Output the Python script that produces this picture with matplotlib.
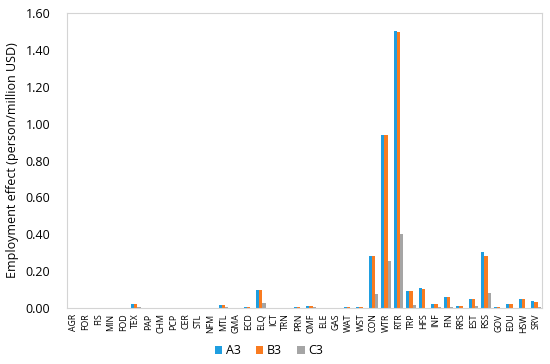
import numpy as np
import matplotlib.pyplot as plt

plt.rcParams['font.family'] = ['Open Sans', 'DejaVu Sans']

sectors = ['AGR', 'FOR', 'FIS', 'MIN', 'FOD', 'TEX', 'PAP', 'CHM', 'PCP', 'CER',
           'STL', 'NFM', 'MTL', 'GMA', 'ECD', 'ELQ', 'ICT', 'TRN', 'PRN', 'OMF',
           'ELE', 'GAS', 'WAT', 'WST', 'CON', 'WTR', 'RTR', 'TRP', 'HFS', 'INF',
           'FIN', 'RRS', 'EST', 'RSS', 'GOV', 'EDU', 'HSW', 'SRV']

a3 = [0, 0, 0, 0, 0, 0.020, 0, 0, 0, 0,
      0, 0.002, 0.015, 0, 0.007, 0.095, 0, 0.002, 0.004, 0.010,
      0, 0, 0.004, 0.004, 0.283, 0.940, 1.503, 0.093, 0.110, 0.023,
      0.058, 0.013, 0.046, 0.305, 0.007, 0.023, 0.051, 0.035]
b3 = [0, 0, 0, 0, 0, 0.020, 0, 0, 0, 0,
      0, 0.002, 0.015, 0, 0.007, 0.095, 0, 0.002, 0.004, 0.010,
      0, 0, 0.004, 0.004, 0.283, 0.940, 1.498, 0.092, 0.101, 0.023,
      0.058, 0.012, 0.046, 0.283, 0.006, 0.022, 0.048, 0.033]
c3 = [0, 0, 0, 0, 0, 0.003, 0, 0, 0, 0,
      0, 0.001, 0.003, 0, 0.001, 0.025, 0, 0.001, 0.001, 0.003,
      0, 0, 0.001, 0.001, 0.077, 0.255, 0.400, 0.018, 0.001, 0.003,
      0.003, 0.001, 0.010, 0.083, 0.001, 0.002, 0.001, 0.003]

x = np.arange(len(sectors))
w = 0.25

fig = plt.figure(figsize=(5.5, 3.64), dpi=100)
ax = fig.add_axes([0.122, 0.154, 0.864, 0.81])

ax.bar(x - w, a3, w, color='#1f9ee0', label='A3')
ax.bar(x, b3, w, color='#f97b20', label='B3')
ax.bar(x + w, c3, w, color='#a5a5a5', label='C3')

ax.set_xlim(-0.5, len(sectors) - 0.5)
ax.set_ylim(0, 1.6)
ax.set_yticks(np.arange(0, 1.61, 0.2))
ax.set_yticklabels(['%.2f' % v for v in np.arange(0, 1.61, 0.2)], fontsize=9)
ax.set_xticks(x)
ax.set_xticklabels(sectors, rotation=90, fontsize=6.3)
ax.tick_params(length=0, pad=4)
ax.tick_params(axis='y', pad=12)
for s in ax.spines.values():
    s.set_color('#d4d4d4')
ax.set_ylabel('Employment effect (person/million USD)', fontsize=9, labelpad=5)

ax.legend(loc='center', bbox_to_anchor=(0.425, -0.145), ncol=3, frameon=False,
          fontsize=9, handlelength=0.6, handleheight=0.6, handletextpad=0.3,
          columnspacing=1.2, borderpad=0)

plt.savefig('out.png', dpi=100)
